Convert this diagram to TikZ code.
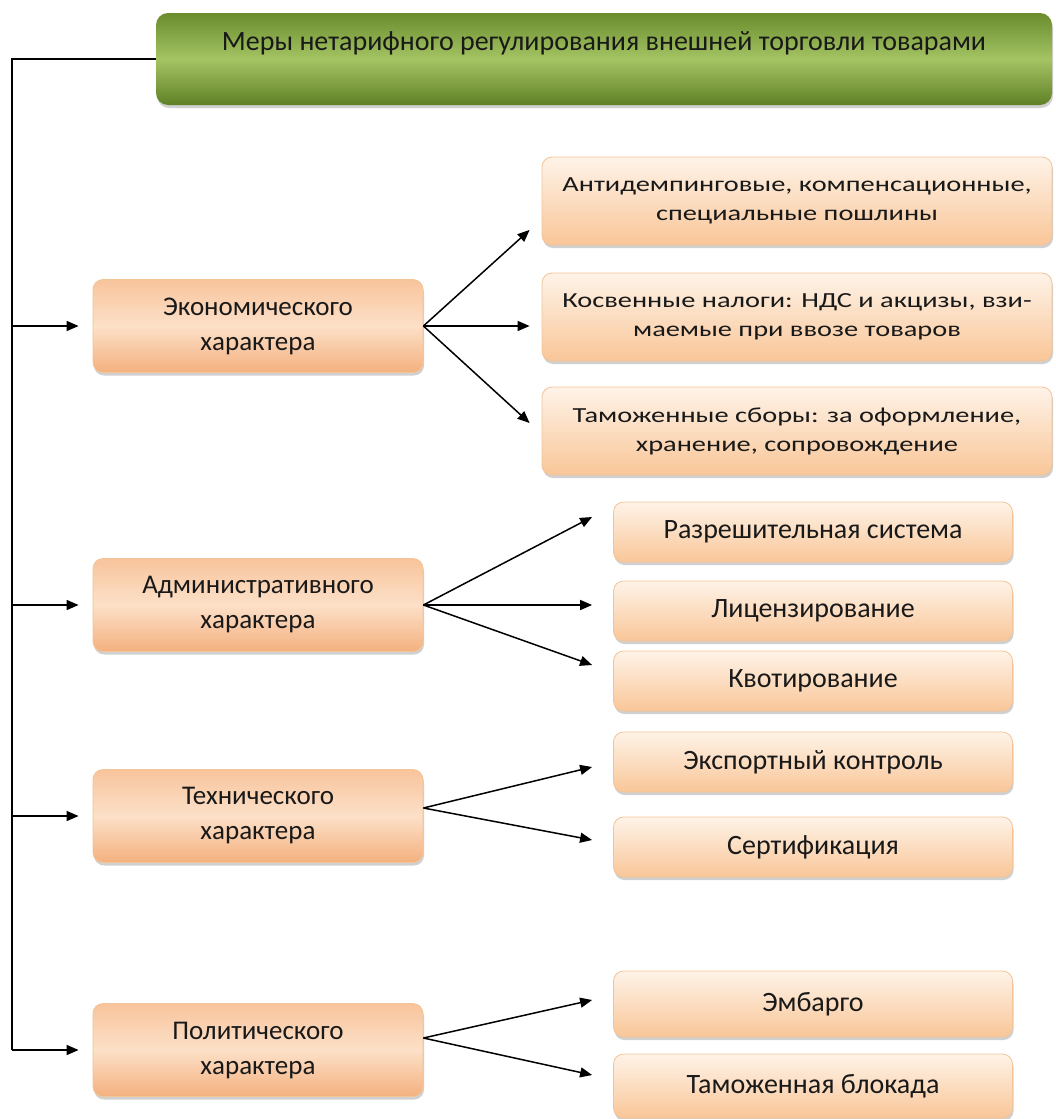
\documentclass[tikz,border=0pt]{standalone}
\usepackage{fontspec}
\setmainfont{Carlito}
\newfontfamily\widefont[FakeStretch=1.32]{Carlito}
\usetikzlibrary{arrows.meta,shadows}

\definecolor{txtgray}{RGB}{25,25,25}
\definecolor{peachtop}{RGB}{254,243,232}
\definecolor{peachbot}{RGB}{249,198,152}
\definecolor{peachline}{RGB}{243,196,152}
\definecolor{cattop}{RGB}{248,196,156}
\definecolor{catmid}{RGB}{252,224,200}
\definecolor{catbot}{RGB}{244,176,126}
\definecolor{greentop}{RGB}{106,140,44}
\definecolor{greenmid}{RGB}{164,196,100}
\definecolor{greenbot}{RGB}{96,128,38}

\begin{document}
\begin{tikzpicture}[x=1pt, y=-1pt,
    box/.style={rounded corners=10pt, draw=peachline, line width=0.8pt, text=txtgray, align=center, inner sep=0pt,
      drop shadow={shadow xshift=1pt, shadow yshift=-3pt, opacity=0.3, fill=black!60}},
    catbox/.style={box, top color=cattop, bottom color=catbot, middle color=catmid,
      minimum width=330pt, minimum height=93pt, font=\fontsize{27}{35}\selectfont},
    widebox/.style={box, top color=peachtop, bottom color=peachbot,
      minimum width=510pt, minimum height=88pt, font=\widefont\fontsize{21.5}{29}\selectfont},
    subbox/.style={box, top color=peachtop, bottom color=peachbot,
      minimum width=399pt, minimum height=60pt, font=\fontsize{28}{32}\selectfont},
    titlebox/.style={rounded corners=12pt, top color=greentop, bottom color=greenbot, middle color=greenmid,
      minimum width=896pt, minimum height=92pt, inner sep=0pt, text height=20pt, text depth=38pt,
      text=txtgray, font=\fontsize{28}{34}\selectfont,
      drop shadow={shadow xshift=1pt, shadow yshift=-3pt, opacity=0.3, fill=black!60}},
    arr/.style={line width=1.5pt, -{Triangle[length=12pt,width=10pt]}}]

  \fill[white] (0,0) rectangle (1056,1119);
  \useasboundingbox (0,0) rectangle (1056,1119);

  % top
  \node[titlebox] (title) at (604,59) {Меры нетарифного регулирования внешней торговли товарами};

  % groups
  \node[catbox] (econ)  at (258,326)  {Экономического\\характера};
  \node[catbox] (admin) at (258,605)  {Административного\\характера};
  \node[catbox] (tech)  at (258,816)  {Технического\\характера};
  \node[catbox] (polit) at (258,1050) {Политического\\характера};

  % measures
  \node[widebox] (anti)  at (797,201) {Антидемпинговые, компенсационные,\\специальные пошлины};
  \node[widebox] (kosv)  at (797,317) {Косвенные налоги: НДС и акцизы, взи-\\маемые при ввозе товаров};
  \node[widebox] (tamsb) at (797,431) {Таможенные сборы: за оформление,\\хранение, сопровождение};
  \node[subbox] (razr)  at (813,532)  {Разрешительная система};
  \node[subbox] (lic)   at (813,611)  {Лицензирование};
  \node[subbox] (kvot)  at (813,681)  {Квотирование};
  \node[subbox] (exprt) at (813,762)  {Экспортный контроль};
  \node[subbox] (sert)  at (813,847)  {Сертификация};
  \node[subbox, minimum height=66pt] (emb)  at (813,1004) {Эмбарго};
  \node[subbox, minimum height=64pt] (blok) at (813,1086) {Таможенная блокада};

  % trunk
  \coordinate (trunk) at (12,1050);
  \draw[line width=1.5pt] (title.west) -| (trunk |- polit.west);
  \foreach \c in {econ,admin,tech,polit}
    \draw[arr] (trunk |- \c.west) -- ([xshift=-14pt]\c.west);

  % branches
  \draw[arr] (econ.east) -- ([xshift=-12pt,yshift=-29pt]anti.west);
  \draw[arr, shorten >=12pt] (econ.east) -- (econ.east -| kosv.west);
  \draw[arr] (econ.east) -- ([xshift=-12pt,yshift=8pt]tamsb.west);

  \draw[arr] (admin.east) -- ([xshift=-21pt,yshift=15pt]razr.west);
  \draw[arr, shorten >=21pt] (admin.east) -- (admin.east -| lic.west);
  \draw[arr] (admin.east) -- ([xshift=-21pt,yshift=16pt]kvot.west);

  \draw[arr] ([yshift=8pt]tech.east) -- ([xshift=-21pt,yshift=-5pt]exprt.west);
  \draw[arr] ([yshift=8pt]tech.east) -- ([xshift=-21pt,yshift=7pt]sert.west);

  \draw[arr] ([yshift=12pt]polit.east) -- ([xshift=-21pt,yshift=4pt]emb.west);
  \draw[arr] ([yshift=12pt]polit.east) -- ([xshift=-21pt,yshift=11pt]blok.west);
\end{tikzpicture}
\end{document}
